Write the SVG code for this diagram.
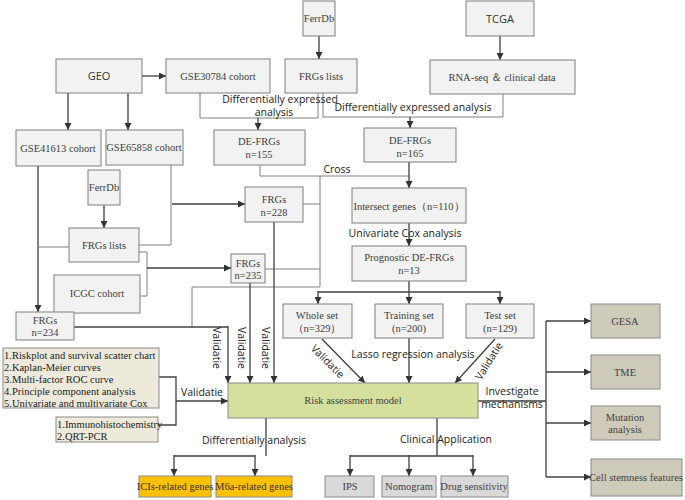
<svg xmlns="http://www.w3.org/2000/svg" width="685" height="500" viewBox="0 0 685 500">
<defs>
<marker id="a" viewBox="0 0 10 10" refX="10" refY="5" markerWidth="7" markerHeight="7" markerUnits="userSpaceOnUse" orient="auto"><path d="M0,0 L10,5 L0,10 z" fill="#333"/></marker>
<style>
.b rect{fill:#f2f2f2;stroke:#7f7f7f;stroke-width:1}
.be rect{fill:#eeeadb;stroke:#8a8a8a}
.r rect{fill:#d5e09c;stroke:#8a8a8a}
.o rect{fill:#ffc000;stroke:#8a8a8a}
.g rect{fill:#d9d9d9;stroke:#8a8a8a}
.m rect{fill:#cfcbbb;stroke:#8a8a8a}
text{font-family:"Liberation Serif","Times New Roman",serif;font-size:10.5px;fill:#404040;text-anchor:middle}
text.s{font-family:"Open Sans","DejaVu Sans",sans-serif;font-size:10.5px;fill:#222}
text.l{text-anchor:start;fill:#222;font-size:10.5px}
#c path,#c line{fill:none;stroke:#404040;stroke-width:1.3}
#c .t{stroke:#808080;stroke-width:1}
</style>
</defs>
<rect width="685" height="500" fill="#fff"/>
<g id="c">
<path class="t" d="M200,93 V118 H318 V93"/>
<line x1="258" y1="118" x2="258" y2="130" marker-end="url(#a)"/>
<path class="t" d="M323,93 V117 H503 V94"/>
<line x1="410" y1="117" x2="410" y2="128" marker-end="url(#a)"/>
<line x1="319" y1="36" x2="319" y2="59" marker-end="url(#a)"/>
<line x1="500" y1="36" x2="500" y2="60" marker-end="url(#a)"/>
<line x1="142" y1="76" x2="166" y2="76" marker-end="url(#a)"/>
<line x1="68" y1="93" x2="68" y2="130" marker-end="url(#a)"/>
<line x1="128" y1="93" x2="128" y2="130" marker-end="url(#a)"/>
<path class="t" d="M260,165 V176 H409"/>
<line x1="409" y1="162" x2="409" y2="188" marker-end="url(#a)"/>
<line x1="409" y1="223" x2="409" y2="246" marker-end="url(#a)"/>
<line x1="104" y1="205" x2="104" y2="228" marker-end="url(#a)"/>
<path class="t" d="M171,165 V245 H139"/>
<line x1="172" y1="204" x2="245" y2="204" marker-end="url(#a)"/>
<path class="t" d="M303,204 H320 M320,176 V287 M265,269 H320 M192,327 V287 H320"/>
<line x1="38" y1="166" x2="38" y2="312" marker-end="url(#a)"/>
<path class="t" d="M38,247 H69"/>
<line x1="274" y1="222" x2="274" y2="383" marker-end="url(#a)"/>
<path class="t" d="M139,252 H147 V296 H140"/>
<line x1="147" y1="268" x2="231" y2="268" marker-end="url(#a)"/>
<line x1="250" y1="283" x2="250" y2="383" marker-end="url(#a)"/>
<path d="M74,327 H228"/>
<line x1="228" y1="326" x2="228" y2="383" marker-end="url(#a)"/>
<path d="M409,281 V292 M318,292 H500"/>
<line x1="318" y1="291" x2="318" y2="304" marker-end="url(#a)"/>
<line x1="500" y1="291" x2="500" y2="304" marker-end="url(#a)"/>
<line x1="409" y1="292" x2="409" y2="304" marker-end="url(#a)"/>
<line x1="322" y1="339" x2="365" y2="383" marker-end="url(#a)"/>
<line x1="409" y1="338" x2="409" y2="383" marker-end="url(#a)"/>
<line x1="495" y1="339" x2="455" y2="383" marker-end="url(#a)"/>
<path d="M159,377 H176 V425 H158"/>
<line x1="176" y1="401" x2="228" y2="401" marker-end="url(#a)"/>
<path d="M266,418 V456 M174,456 H255"/>
<line x1="174" y1="455" x2="174" y2="476" marker-end="url(#a)"/>
<line x1="255" y1="455" x2="255" y2="476" marker-end="url(#a)"/>
<path d="M437,418 V456 M350,456 H473"/>
<line x1="350" y1="455" x2="350" y2="476" marker-end="url(#a)"/>
<line x1="409" y1="455" x2="409" y2="476" marker-end="url(#a)"/>
<line x1="473" y1="455" x2="473" y2="476" marker-end="url(#a)"/>
<path d="M478,401 H546 M546,321 V477"/>
<line x1="546" y1="321" x2="591" y2="321" marker-end="url(#a)"/>
<line x1="546" y1="372" x2="591" y2="372" marker-end="url(#a)"/>
<line x1="546" y1="423" x2="591" y2="423" marker-end="url(#a)"/>
<line x1="546" y1="477" x2="591" y2="477" marker-end="url(#a)"/>
</g>
<g id="labels">
<text class="s" x="280" y="103">Differentially expressed</text>
<text class="s" x="274" y="116">analysis</text>
<text class="s" x="413" y="111">Differentially expressed analysis</text>
<text class="s" x="337" y="173">Cross</text>
<text class="s" x="405" y="237">Univariate Cox analysis</text>
<text class="s" x="413" y="358">Lasso regression analysis</text>
<text class="s" transform="translate(213,348) rotate(90)">Validatie</text>
<text class="s" transform="translate(238,348) rotate(90)">Validatie</text>
<text class="s" transform="translate(262,348) rotate(90)">Validatie</text>
<text class="s" transform="translate(325,364) rotate(45)">Validatie</text>
<text class="s" transform="translate(492,363) rotate(-58)">Validatie</text>
<text class="s" x="202" y="396">Validatie</text>
<text class="s" x="512" y="395">Investigate</text>
<text class="s" x="512" y="408">mechanisms</text>
<text class="s" x="254" y="444">Differentially analysis</text>
<text class="s" x="446" y="443">Clinical Application</text>
</g>
<g id="n1" class="b"><rect x="303" y="1" width="32" height="35"/><text x="319" y="22" font-size="9.5">FerrDb</text></g>
<g id="n2" class="b"><rect x="466" y="1" width="68" height="35"/><text class="s" x="500" y="23" style="fill:#333;font-size:11px">TCGA</text></g>
<g id="n3" class="b"><rect x="56" y="59" width="86" height="34"/><text class="s" x="99" y="80" style="fill:#333;font-size:11px">GEO</text></g>
<g id="n4" class="b"><rect x="166" y="59" width="104" height="34"/><text x="218" y="80">GSE30784 cohort</text></g>
<g id="n5" class="b"><rect x="285" y="59" width="72" height="34"/><text x="321" y="80">FRGs lists</text></g>
<g id="n6" class="b"><rect x="430" y="60" width="145" height="34"/><text x="502" y="81">RNA-seq ＆ clinical data</text></g>
<g id="n7" class="b"><rect x="16" y="130" width="85" height="36"/><text x="58" y="152">GSE41613 cohort</text></g>
<g id="n8" class="b"><rect x="106" y="130" width="77" height="35"/><text x="144" y="151">GSE65858 cohort</text></g>
<g id="n9" class="b"><rect x="214" y="130" width="91" height="35"/><text x="259" y="145">DE-FRGs</text><text x="259" y="158">n=155</text></g>
<g id="n10" class="b"><rect x="364" y="128" width="92" height="34"/><text x="410" y="144">DE-FRGs</text><text x="410" y="157">n=165</text></g>
<g id="n11" class="b"><rect x="88" y="170" width="32" height="35"/><text x="104" y="191" font-size="9.5">FerrDb</text></g>
<g id="n12" class="b"><rect x="245" y="187" width="58" height="35"/><text x="274" y="203">FRGs</text><text x="274" y="216">n=228</text></g>
<g id="n13" class="b"><rect x="352" y="188" width="114" height="35"/><text x="409" y="210" font-size="10">Intersect genes（n=110）</text></g>
<g id="n14" class="b"><rect x="69" y="228" width="70" height="34"/><text x="104" y="249">FRGs lists</text></g>
<g id="n15" class="b"><rect x="352" y="246" width="114" height="35"/><text x="409" y="261">Prognostic DE-FRGs</text><text x="409" y="274">n=13</text></g>
<g id="n16" class="b"><rect x="231" y="254" width="34" height="29"/><text x="248" y="267">FRGs</text><text x="248" y="279">n=235</text></g>
<g id="n17" class="b"><rect x="54" y="275" width="86" height="38"/><text x="97" y="297">ICGC  cohort</text></g>
<g id="n18" class="b"><rect x="283" y="304" width="69" height="34"/><text x="317" y="319">Whole set</text><text x="317" y="332">（n=329）</text></g>
<g id="n19" class="b"><rect x="375" y="304" width="68" height="34"/><text x="409" y="319">Training set</text><text x="409" y="332">(n=200)</text></g>
<g id="n20" class="b"><rect x="466" y="304" width="68" height="34"/><text x="500" y="319">Test set</text><text x="500" y="332">(n=129)</text></g>
<g id="n21" class="b"><rect x="16" y="312" width="58" height="28"/><text x="45" y="324">FRGs</text><text x="45" y="336">n=234</text></g>
<g id="n22" class="be"><rect x="3" y="348" width="156" height="60"/>
<text class="l" x="4" y="359">1.Riskplot and  survival scatter chart</text>
<text class="l" x="4" y="371">2.Kaplan-Meier curves</text>
<text class="l" x="4" y="383">3.Multi-factor ROC curve</text>
<text class="l" x="4" y="395">4.Principle component analysis</text>
<text class="l" x="4" y="407">5.Univariate and multivariate Cox</text></g>
<g id="n23" class="be"><rect x="56" y="417" width="102" height="25"/>
<text class="l" x="57" y="428">1.Immunohistochemistry</text>
<text class="l" x="57" y="440">2.QRT-PCR</text></g>
<g id="n24" class="r"><rect x="228" y="383" width="250" height="35"/><text x="353" y="404">Risk assessment  model</text></g>
<g id="n25" class="m"><rect x="591" y="304" width="69" height="34"/><text x="625" y="325">GESA</text></g>
<g id="n26" class="m"><rect x="591" y="355" width="69" height="34"/><text x="625" y="376">TME</text></g>
<g id="n27" class="m"><rect x="591" y="406" width="69" height="34"/><text x="625" y="421">Mutation</text><text x="625" y="433">analysis</text></g>
<g id="n28" class="m"><rect x="591" y="459" width="91" height="37"/><text x="636" y="481" font-size="10">Cell stemness features</text></g>
<g id="n29" class="o"><rect x="139" y="476" width="72" height="21"/><text x="175" y="490" font-size="10" style="fill:#333">ICIs-related genes</text></g>
<g id="n30" class="o"><rect x="216" y="476" width="76" height="21"/><text x="254" y="490" font-size="10" style="fill:#333">M6a-related genes</text></g>
<g id="n31" class="g"><rect x="325" y="476" width="49" height="21"/><text x="350" y="490">IPS</text></g>
<g id="n32" class="g"><rect x="382" y="476" width="54" height="21"/><text x="409" y="490">Nomogram</text></g>
<g id="n33" class="g"><rect x="441" y="476" width="67" height="21"/><text x="474" y="490">Drug sensitivity</text></g>
</svg>
